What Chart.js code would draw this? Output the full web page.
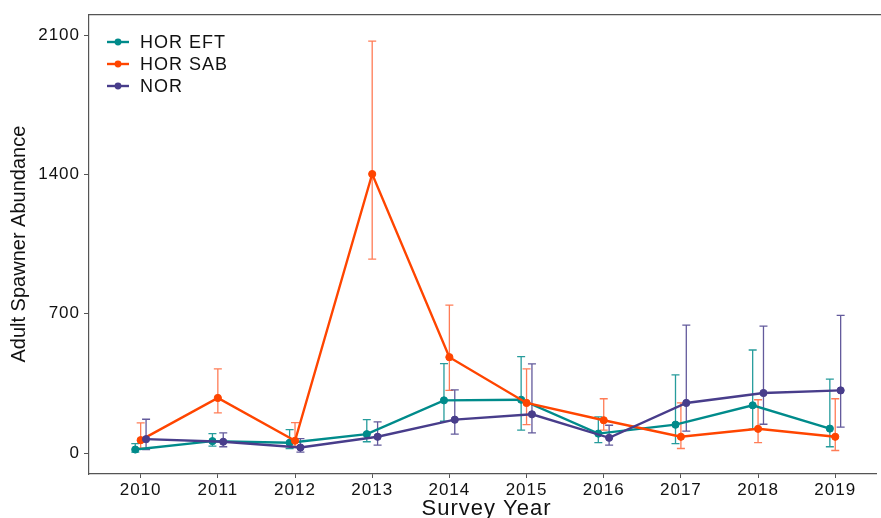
<!DOCTYPE html>
<html>
<head>
<meta charset="utf-8">
<script src="https://cdn.jsdelivr.net/npm/chart.js@4/dist/chart.umd.min.js"></script>
<style>
  html, body { margin: 0; padding: 0; background: #ffffff; }
  #wrap { width: 881px; height: 518px; position: relative; }
</style>
</head>
<body>
<div id="wrap"><canvas id="c" width="881" height="518"></canvas></div>
<script>
// ---- data ----
const years = [2010, 2011, 2012, 2013, 2014, 2015, 2016, 2017, 2018, 2019];
const yTickValues = [0, 700, 1400, 2100];

const seriesNames = ["HOR EFT", "HOR SAB", "NOR"];

const horEft   = [18, 60, 52, 95, 265, 268, 98, 143, 240, 123];
const horEftLo = [5, 35, 23, 57, 160, 115, 53, 48, 120, 32];
const horEftHi = [48, 98, 118, 168, 450, 485, 182, 393, 518, 372];

const horSab   = [65, 277, 62, 1402, 482, 252, 165, 82, 122, 82];
const horSabLo = [25, 202, 35, 975, 315, 143, 115, 23, 53, 13];
const horSabHi = [152, 423, 153, 2070, 743, 423, 273, 252, 268, 273];

const nor   = [70, 57, 28, 82, 168, 195, 77, 252, 302, 315];
const norLo = [18, 32, 5, 40, 95, 102, 40, 110, 145, 130];
const norHi = [170, 102, 73, 157, 318, 448, 140, 643, 638, 692];

// ---- styling ----
const colors = ["#008B8B", "#FF4500", "#483D8B"];
const barColors = ["rgba(0,139,139,0.85)", "rgba(255,80,30,0.75)", "rgba(72,61,139,0.85)"];
const dodge = [-0.07, 0, 0.07];
const FONT = "'Liberation Sans', Arial, sans-serif";

function build(vals, lo, hi, k) {
  return years.map((yr, i) => ({ x: yr + dodge[k], y: vals[i], lo: lo[i], hi: hi[i] }));
}
const allData = [
  build(horEft, horEftLo, horEftHi, 0),
  build(horSab, horSabLo, horSabHi, 1),
  build(nor, norLo, norHi, 2)
];

const datasets = allData.map((d, k) => ({
  label: seriesNames[k],
  data: d,
  borderColor: colors[k],
  backgroundColor: colors[k],
  pointBackgroundColor: colors[k],
  pointBorderColor: colors[k],
  pointRadius: 3.6,
  pointBorderWidth: 1,
  borderWidth: 2.4,
  tension: 0,
  order: 3 - k
}));

const spacing = {
  id: 'spacing',
  beforeDraw(chart) { chart.ctx.letterSpacing = '1px'; }
};

const errorBars = {
  id: 'errorBars',
  beforeDatasetsDraw(chart) {
    const ctx = chart.ctx;
    const xs = chart.scales.x, ys = chart.scales.y;
    ctx.save();
    allData.forEach((d, k) => {
      ctx.strokeStyle = barColors[k];
      ctx.lineWidth = 1.3;
      d.forEach(p => {
        const px = xs.getPixelForValue(p.x);
        const pl = ys.getPixelForValue(p.lo);
        const ph = ys.getPixelForValue(p.hi);
        ctx.beginPath();
        ctx.moveTo(px, pl); ctx.lineTo(px, ph);
        ctx.moveTo(px - 4, ph); ctx.lineTo(px + 4, ph);
        ctx.moveTo(px - 4, pl); ctx.lineTo(px + 4, pl);
        ctx.stroke();
      });
    });
    ctx.restore();
  }
};

const decor = {
  id: 'decor',
  afterDraw(chart) {
    const ctx = chart.ctx;
    const a = chart.chartArea;
    ctx.save();
    // top border of panel
    ctx.strokeStyle = '#555555';
    ctx.lineWidth = 1.2;
    ctx.beginPath();
    ctx.moveTo(a.left, a.top + 0.5); ctx.lineTo(chart.width, a.top + 0.5);
    ctx.stroke();
    // legend
    const rows = [42, 64, 86];
    seriesNames.forEach((name, k) => {
      ctx.strokeStyle = colors[k];
      ctx.lineWidth = 2.4;
      ctx.beginPath();
      ctx.moveTo(107, rows[k]); ctx.lineTo(129, rows[k]);
      ctx.stroke();
      ctx.fillStyle = colors[k];
      ctx.beginPath();
      ctx.arc(118, rows[k], 3.4, 0, Math.PI * 2);
      ctx.fill();
      ctx.fillStyle = '#111111';
      ctx.font = "18px " + FONT;
      ctx.textBaseline = 'middle';
      ctx.textAlign = 'left';
      ctx.fillText(name, 140, rows[k] + 1);
    });
    // axis titles
    ctx.fillStyle = '#111111';
    ctx.font = "22px " + FONT;
    ctx.textAlign = 'center';
    ctx.textBaseline = 'middle';
    ctx.fillText("Survey Year", (a.left + a.right) / 2 + 4, 509);
    ctx.letterSpacing = '0px';
    ctx.translate(19, (a.top + a.bottom) / 2);
    ctx.rotate(-Math.PI / 2);
    ctx.font = "20px " + FONT;
    ctx.fillText("Adult Spawner Abundance", 0, 0);
    ctx.restore();
  }
};

new Chart(document.getElementById('c'), {
  type: 'line',
  data: { datasets },
  plugins: [spacing, errorBars, decor],
  options: {
    responsive: false,
    animation: false,
    layout: { padding: { top: 13, left: 0, right: 0, bottom: 0 } },
    plugins: { legend: { display: false }, tooltip: { enabled: false } },
    scales: {
      x: {
        type: 'linear',
        min: 2009.3305,
        max: 2019.528,
        afterBuildTicks: s => { s.ticks = years.map(v => ({ value: v })); },
        afterFit: s => { s.height = 44; },
        ticks: {
          callback: v => String(v),
          color: '#111111',
          font: { family: FONT, size: 17 },
          padding: 2,
          maxRotation: 0,
          autoSkip: false
        },
        grid: { drawOnChartArea: false, drawTicks: true, tickLength: 4, color: '#555555' },
        border: { display: true, color: '#555555', width: 1.2 }
      },
      y: {
        type: 'linear',
        min: -105,
        max: 2205,
        afterBuildTicks: s => { s.ticks = yTickValues.map(v => ({ value: v })); },
        afterFit: s => { s.width = 89; },
        ticks: {
          callback: v => String(v),
          color: '#111111',
          font: { family: FONT, size: 17 },
          padding: 4
        },
        grid: { drawOnChartArea: false, drawTicks: true, tickLength: 5, color: '#555555' },
        border: { display: true, color: '#555555', width: 1.2 }
      }
    }
  }
});
</script>
</body>
</html>
